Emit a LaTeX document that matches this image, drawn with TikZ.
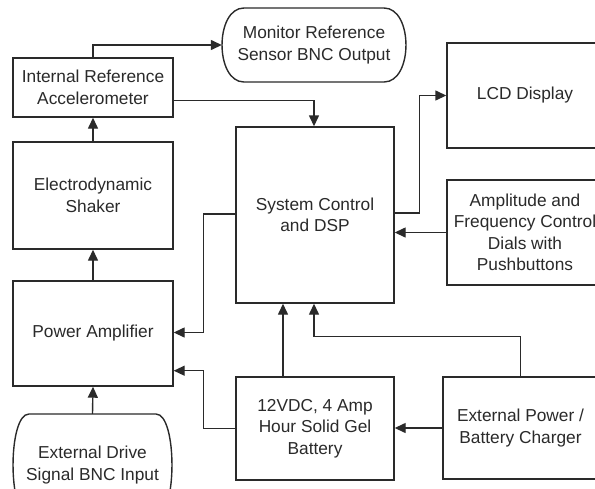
\documentclass[tikz,border=0pt]{standalone}
\usepackage{fontspec}
\setmainfont{Liberation Sans}
\usetikzlibrary{arrows.meta,calc}
\definecolor{linec}{HTML}{2A2A2A}
\definecolor{textc}{HTML}{2A2A2A}
\begin{document}
\begin{tikzpicture}[x=1pt,y=-1pt,
  line/.style={draw=linec, line width=1.4pt},
  lbl/.style={align=center, text=textc, font=\fontsize{17.3}{21.5}\selectfont, inner sep=0pt},
  box/.style={lbl, line, rectangle},
  arr/.style={line, -{Triangle[length=11pt,width=10pt]}}]
\useasboundingbox (0,0) rectangle (595,488);
\fill[white] (0,0) rectangle (595,488);
\clip (0,0) rectangle (595,488);

% boxes
\node[box, minimum width=160pt, minimum height=59pt] (acc) at (93,87.5) {Internal Reference\\Accelerometer};
\node[box, minimum width=160pt, minimum height=107pt] (sh) at (93,195.5) {Electrodynamic\\Shaker};
\node[box, minimum width=160pt, minimum height=105pt] (pa) at (93,333.5) {Power Amplifier};
\node[box, minimum width=158pt, minimum height=176pt] (dsp) at (315,215) {System Control\\and DSP};
\node[box, minimum width=156pt, minimum height=105pt] (lcd) at (525,95.5) {LCD Display};
\node[box, minimum width=156pt, minimum height=105pt] (amp) at (525,232.5) {Amplitude and\\Frequency Control\\Dials with\\Pushbuttons};
\node[box, minimum width=158pt, minimum height=103pt] (bat) at (315,428.5) {12VDC, 4 Amp\\Hour Solid Gel\\Battery};
\node[box, minimum width=155pt, minimum height=102pt] (ext) at (520.5,428) {External Power /\\Battery Charger};

% rounded terminals
\node[lbl, minimum width=184pt, minimum height=74pt] (mon) at (314,45) {Monitor Reference\\Sensor BNC Output};
\draw[line] (244,8) -- (384,8) .. controls (413.3,8) and (413.3,82) .. (384,82)
  -- (244,82) .. controls (214.7,82) and (214.7,8) .. (244,8) -- cycle;
\node[lbl, minimum width=159pt, minimum height=102pt] (ed) at (92.5,465) {External Drive\\Signal BNC Input};
\draw[line] (29,414) -- (156,414) .. controls (177.3,414) and (177.3,516) .. (156,516)
  -- (29,516) .. controls (7.7,516) and (7.7,414) .. (29,414) -- cycle;

% connectors
\draw[arr] (acc.north) |- (mon.west);
\draw[arr] (sh.north) -- (acc.south);
\draw[arr] (pa.north) -- (sh.south);
\draw[arr] (ed.north) -- (pa.south);
\draw[arr] ($(acc.south east)+(0,-17)$) -| ($(dsp.north)+(-1,0)$);
\draw[arr] ($(dsp.east)+(0,-2)$) -- ++(25,0) |- (lcd.west);
\draw[arr] (amp.west) -- (amp.west -| dsp.east);
\draw[arr] ($(dsp.west)+(0,-1)$) -- ++(-32,0) |- ($(pa.east)+(0,-1)$);
\draw[arr] (bat.west) -- ++(-32,0) |- ($(pa.south east)+(0,-16)$);
\draw[arr] ($(bat.north)+(-32,0)$) -- ($(dsp.south)+(-32,0)$);
\draw[arr] (ext.west) -- (ext.west -| bat.east);
\draw[arr] (ext.north) -- ++(0,-40) -| ($(dsp.south)+(-1,0)$);
\end{tikzpicture}
\end{document}
